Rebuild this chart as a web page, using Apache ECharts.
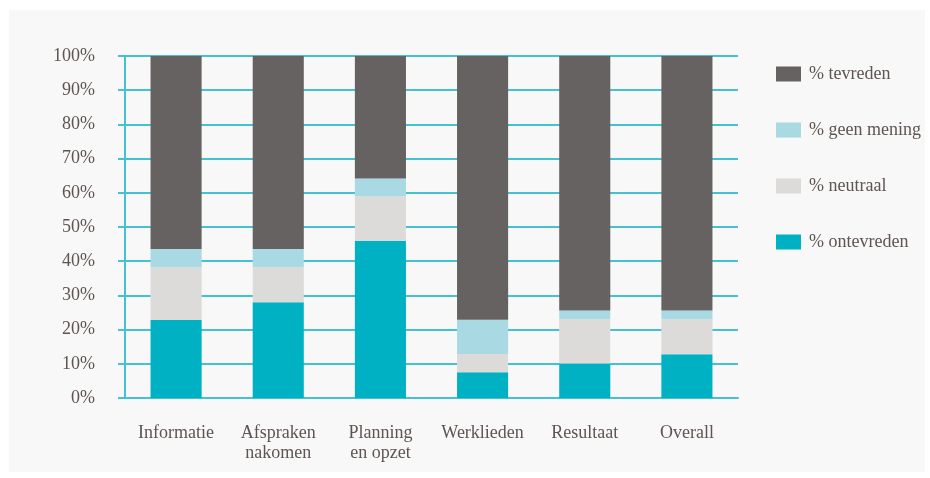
<!DOCTYPE html>
<html>
<head>
<meta charset="utf-8">
<script src="https://cdn.jsdelivr.net/npm/echarts@6/dist/echarts.min.js"></script>
<style>
html,body{margin:0;padding:0;background:#ffffff;}
#chart{width:930px;height:478px;}
</style>
</head>
<body>
<div id="chart"></div>
<script>
const categories = ['Informatie', 'Afspraken\nnakomen', 'Planning\nen opzet', 'Werklieden', 'Resultaat', 'Overall'];
const ontevreden = [22.8, 28.0, 46.0, 7.5, 10.1, 12.8];
const neutraal   = [15.4, 10.2, 12.9, 5.4, 12.9, 10.2];
const geenMening = [5.4, 5.4, 5.3, 10.0, 2.6, 2.6];
const tevreden   = [56.4, 56.4, 35.8, 77.1, 74.4, 74.4];
const seriesNames = ['% ontevreden', '% neutraal', '% geen mening', '% tevreden'];
const legendOrder = ['% tevreden', '% geen mening', '% neutraal', '% ontevreden'];
const yTicks = [0, 100, 10];

const lineColor = '#44c2cf';
const textColor = '#5e5451';
const font = '"Liberation Serif", "DejaVu Serif", serif';

const chart = echarts.init(document.getElementById('chart'), null, {renderer: 'canvas'});
const colors = ['#00b1c4', '#dcdbda', '#a9d9e3', '#666261'];
const datas = [ontevreden, neutraal, geenMening, tevreden];

chart.setOption({
  animation: false,
  backgroundColor: '#ffffff',
  graphic: [{
    type: 'rect', z: -10, silent: true,
    shape: {x: 9, y: 10, width: 916, height: 462},
    style: {fill: '#f8f8f8'}
  }],
  grid: {left: 125, right: 192, top: 56, bottom: 80},
  legend: {
    data: legendOrder,
    orient: 'vertical',
    left: 771, top: 60,
    itemWidth: 25, itemHeight: 15, itemGap: 38,
    icon: 'rect',
    textStyle: {fontFamily: font, fontSize: 18, color: textColor, padding: [0, 0, 0, 3]}
  },
  xAxis: {
    type: 'category',
    data: categories,
    axisLine: {show: true, lineStyle: {color: lineColor, width: 2}},
    axisTick: {show: false},
    axisLabel: {fontFamily: font, fontSize: 18, color: textColor, margin: 25, lineHeight: 20, interval: 0}
  },
  yAxis: {
    type: 'value',
    min: yTicks[0], max: yTicks[1], interval: yTicks[2],
    axisLine: {show: true, lineStyle: {color: lineColor, width: 2}},
    axisTick: {show: true, length: 7, lineStyle: {color: lineColor, width: 2}},
    splitLine: {show: true, lineStyle: {color: lineColor, width: 2}},
    axisLabel: {fontFamily: font, fontSize: 18, color: textColor, margin: 30, formatter: '{value}%'}
  },
  series: seriesNames.map((n, i) => ({
    name: n,
    type: 'bar',
    stack: 'total',
    barWidth: '50%',
    data: datas[i],
    itemStyle: {color: colors[i]}
  }))
});
</script>
</body>
</html>
